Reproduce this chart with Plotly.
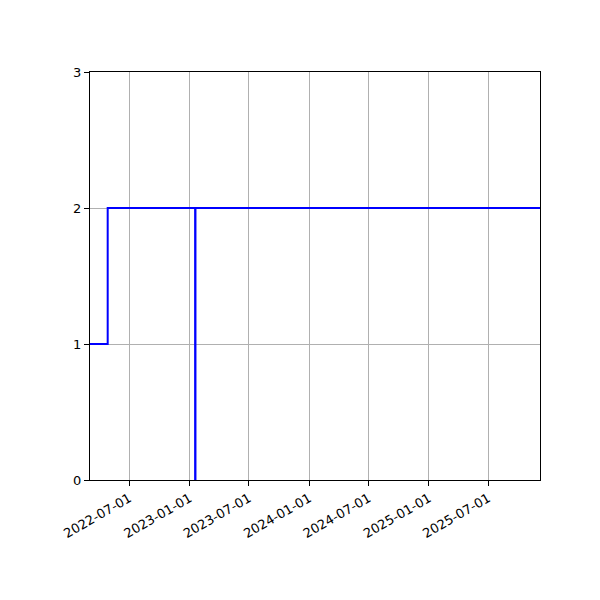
import plotly.graph_objects as go

# step data
dates = ["2022-03-03", "2022-04-26", "2023-01-18", "2023-01-19", "2025-12-06"]
values = [1, 2, 0, 2, 2]

tick_dates = ["2022-07-01", "2023-01-01", "2023-07-01", "2024-01-01",
              "2024-07-01", "2025-01-01", "2025-07-01"]
y_ticks = [0, 1, 2, 3]

fig = go.Figure()
fig.add_scatter(x=dates, y=values, mode="lines", line_shape="hv",
                line=dict(color="blue", width=2), showlegend=False)

axis_style = dict(showline=True, linecolor="black", linewidth=1, mirror=True,
                  ticks="outside", ticklen=5, tickcolor="black",
                  showgrid=True, gridcolor="#b0b0b0", gridwidth=1,
                  zeroline=False, automargin=False,
                  tickfont=dict(family="DejaVu Sans", size=13, color="black"))

fig.update_layout(
    width=600, height=600,
    plot_bgcolor="white", paper_bgcolor="white",
    margin=dict(l=82, r=68, t=64, b=128),
    xaxis=dict(range=[dates[0], dates[-1]], tickvals=tick_dates, ticktext=tick_dates,
               tickangle=-30, **axis_style),
    yaxis=dict(range=[0, 3], tickvals=y_ticks, **axis_style),
)

fig.write_html("out.html")
